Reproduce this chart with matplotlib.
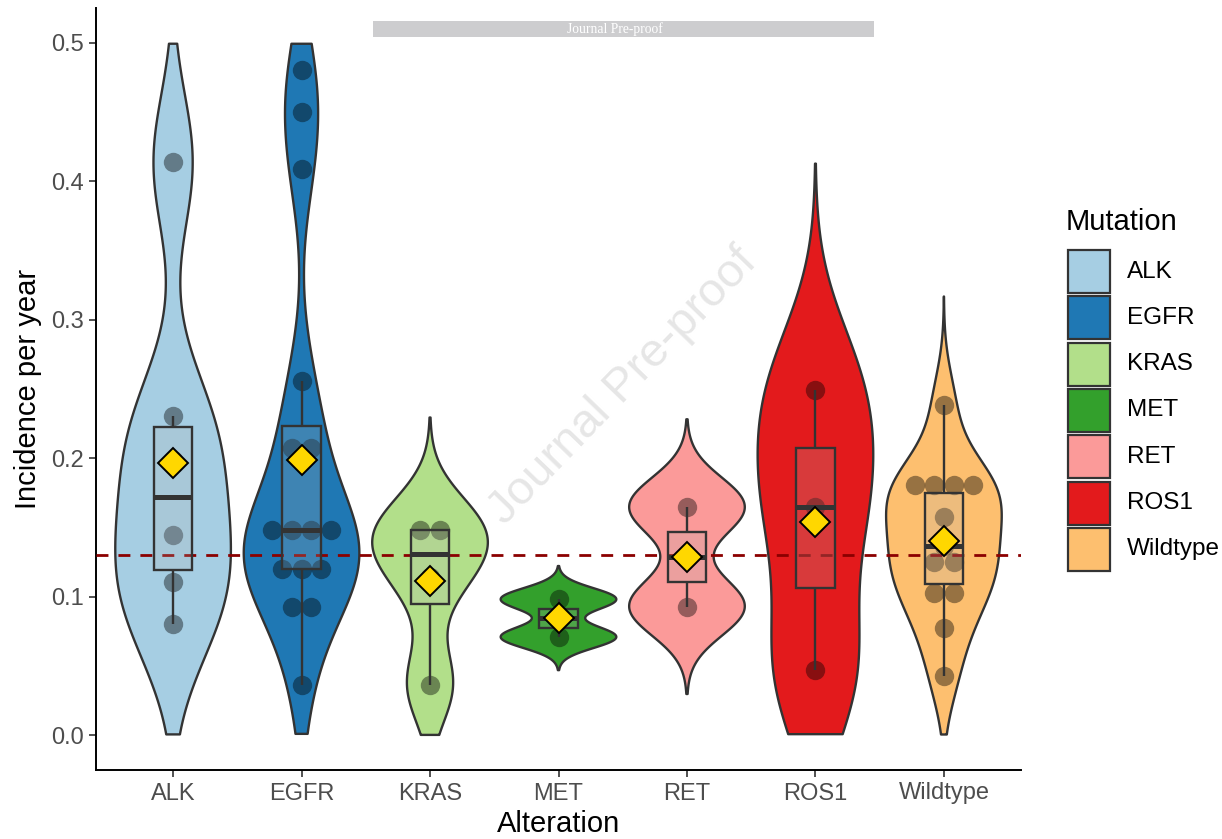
import numpy as np
import matplotlib
matplotlib.use("Agg")
import matplotlib.pyplot as plt
from matplotlib.patches import Rectangle

# ---- data -------------------------------------------------------------
categories = ["ALK", "EGFR", "KRAS", "MET", "RET", "ROS1", "Wildtype"]
colors = ["#A6CEE3", "#1F78B4", "#B2DF8A", "#33A02C", "#FB9A99", "#E31A1C", "#FDBF6F"]

alk = [0.0801, 0.1108, 0.1448, 0.1990, 0.2304, 0.4137]
egfr = [0.0363, 0.0923, 0.0923, 0.1203, 0.1203, 0.1203, 0.1483, 0.1483,
        0.1483, 0.1483, 0.2027, 0.2127, 0.2556, 0.4088, 0.4498, 0.4800]
kras = [0.0367, 0.1140, 0.1480, 0.1480]
met = [0.0710, 0.0983]
ret = [0.0930, 0.1650]
ros1 = [0.0473, 0.1650, 0.2493]
wildtype = [0.0427, 0.0775, 0.0958, 0.1094, 0.1214, 0.1294, 0.1365,
            0.1578, 0.1740, 0.1746, 0.1800, 0.1872, 0.2381]

series = [alk, egfr, kras, met, ret, ros1, wildtype]

reference_rate = 0.13
y_ticks = [0.0, 0.1, 0.2, 0.3, 0.4, 0.5]
y_limits = (0.0, 0.5)

x_title = "Alteration"
y_title = "Incidence per year"
legend_title = "Mutation"
watermark = "Journal Pre-proof"

# ---- figure -------------------------------------------------------------
W, H, DPI = 1222, 839, 100
fig = plt.figure(figsize=(W / DPI, H / DPI), dpi=DPI)
plt.rcParams["font.family"] = ["Liberation Sans", "DejaVu Sans"]

L, R, T, B = 96, 1021, 8, 770
ax = fig.add_axes([L / W, 1 - B / H, (R - L) / W, (B - T) / H])
span = y_limits[1] - y_limits[0]
ax.set_xlim(0.4, len(categories) + 0.6)
ax.set_ylim(y_limits[0] - 0.05 * span, y_limits[1] + 0.05 * span)

EDGE = "#333333"
binwidth = 0.014


def bw_nrd0(x):
    x = np.asarray(x, float)
    sd = x.std(ddof=1)
    q75, q25 = np.percentile(x, [75, 25])
    lo = min(sd, (q75 - q25) / 1.34)
    if lo <= 0:
        lo = sd if sd > 0 else 1.0
    return 0.9 * lo * len(x) ** -0.2


def dot_bins(vals, width):
    bins, end = [], -np.inf
    for v in sorted(vals):
        if v >= end:
            bins.append([v])
            end = v + width
        else:
            bins[-1].append(v)
    return [((min(b) + max(b)) / 2, len(b)) for b in bins]


# pixel geometry of one bin, used for dot sizes
p0 = ax.transData.transform((0, 0))
p1 = ax.transData.transform((1, binwidth))
px_per_x = p1[0] - p0[0]
dot_px = p1[1] - p0[1]
dot_dx = dot_px / px_per_x
dot_s = (dot_px * 72 / DPI) ** 2

for i, (vals, col) in enumerate(zip(series, colors), start=1):
    v = np.asarray(vals, float)

    # violin (width-scaled, tails extended by 3 bandwidths, cut at the limits)
    bw = bw_nrd0(v)
    grid = np.linspace(v.min() - 3 * bw, v.max() + 3 * bw, 512)
    dens = np.exp(-0.5 * ((grid[:, None] - v[None, :]) / bw) ** 2).sum(axis=1)
    half = 0.45 * dens / dens.max()
    keep = (grid >= y_limits[0]) & (grid <= y_limits[1])
    g, h = grid[keep], half[keep]
    xs = np.concatenate([i - h, (i + h)[::-1]])
    ys = np.concatenate([g, g[::-1]])
    ax.fill(xs, ys, facecolor=col, edgecolor=EDGE, lw=1.7, zorder=2,
            joinstyle="round")

    # centred dot stacks
    for centre, n in dot_bins(v, binwidth):
        offs = (np.arange(n) - (n - 1) / 2) * dot_dx
        ax.scatter(i + offs, np.full(n, centre), s=dot_s, color="black",
                   alpha=0.4, linewidths=0, zorder=3)

    # box + whiskers
    q1, med, q3 = np.percentile(v, [25, 50, 75])
    iqr = q3 - q1
    lo = v[v >= q1 - 1.5 * iqr].min()
    hi = v[v <= q3 + 1.5 * iqr].max()
    ax.plot([i, i], [lo, q1], color=EDGE, lw=1.7, zorder=5, solid_capstyle="butt")
    ax.plot([i, i], [q3, hi], color=EDGE, lw=1.7, zorder=5, solid_capstyle="butt")
    ax.add_patch(Rectangle((i - 0.15, q1), 0.3, q3 - q1,
                           facecolor=(0.70, 0.70, 0.70, 0.21),
                           edgecolor=EDGE, lw=1.7, zorder=5))
    ax.plot([i - 0.15, i + 0.15], [med, med], color=EDGE, lw=3.6, zorder=5,
            solid_capstyle="butt")

    # mean marker
    ax.plot(i, v.mean(), marker="D", ms=15.5, mfc="#FFD700", mec="black",
            mew=1.4, zorder=7, linestyle="none")

ax.axhline(reference_rate, color="#8B0000", lw=2.0, ls=(0, (4.3, 3.6)), zorder=4)

# ---- axes styling --------------------------------------------------------
for s in ("top", "right"):
    ax.spines[s].set_visible(False)
for s in ("left", "bottom"):
    ax.spines[s].set_linewidth(1.4)
    ax.spines[s].set_color("black")
ax.set_yticks(y_ticks)
ax.set_yticklabels([f"{t:.1f}" for t in y_ticks])
ax.set_xticks(range(1, len(categories) + 1))
ax.set_xticklabels(categories)
ax.tick_params(axis="both", length=5, width=1.2, color=EDGE,
               labelsize=17, labelcolor="#4D4D4D", pad=4)
ax.set_xlabel(x_title, fontsize=21, labelpad=4)
ax.set_ylabel(y_title, fontsize=21, labelpad=6)


def fx(px):
    return px / W


def fy(py):
    return 1 - py / H


# ---- legend --------------------------------------------------------------
fig.text(fx(1066), fy(222), legend_title, fontsize=21, ha="left", va="center")
pitch = 46.3
for k, (name, col) in enumerate(zip(categories, colors)):
    top = 250 + k * pitch
    fig.add_artist(Rectangle((fx(1068), fy(top + 43)), fx(42), 43 / H,
                             facecolor=col, edgecolor=EDGE, lw=1.6,
                             transform=fig.transFigure))
    fig.text(fx(1127), fy(top + 21.5), name, fontsize=17.5, ha="left",
             va="center")

# ---- overlays ------------------------------------------------------------
fig.add_artist(Rectangle((fx(373), fy(37)), fx(501), 16 / H,
                         facecolor="#CDCDCF", edgecolor="none",
                         transform=fig.transFigure, zorder=10))
fig.text(fx(615), fy(29.5), watermark, fontsize=9.8, color="white",
         family=["Liberation Serif", "DejaVu Serif"], ha="center", va="center",
         zorder=11)
fig.text(fx(623), fy(386), watermark, fontsize=34, color="#D6D6D6", alpha=0.6,
         rotation=46, ha="center", va="center", rotation_mode="anchor",
         zorder=12)

fig.savefig("out.png", dpi=DPI)
